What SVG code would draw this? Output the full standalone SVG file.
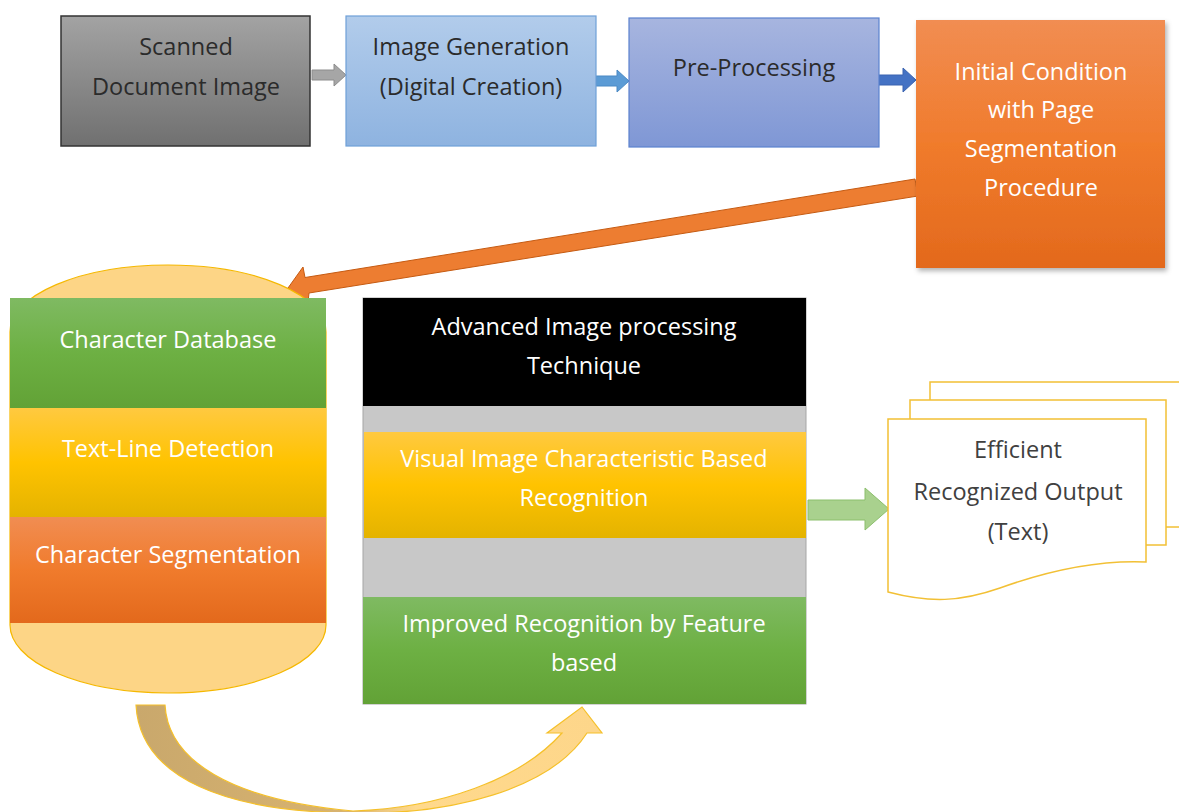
<svg xmlns="http://www.w3.org/2000/svg" width="1179" height="812" viewBox="0 0 1179 812">
<defs>
<linearGradient id="gGray" x1="0" y1="0" x2="0" y2="1"><stop offset="0" stop-color="#a3a3a3"/><stop offset="1" stop-color="#707070"/></linearGradient>
<linearGradient id="gBlue" x1="0" y1="0" x2="0" y2="1"><stop offset="0" stop-color="#b2cceb"/><stop offset="1" stop-color="#8eb3e0"/></linearGradient>
<linearGradient id="gPeri" x1="0" y1="0" x2="0" y2="1"><stop offset="0" stop-color="#a7b5df"/><stop offset="1" stop-color="#7f97d5"/></linearGradient>
<linearGradient id="gOrange" x1="0" y1="0" x2="0" y2="1"><stop offset="0" stop-color="#f18d52"/><stop offset="0.5" stop-color="#f07b2c"/><stop offset="1" stop-color="#e3691c"/></linearGradient>
<linearGradient id="gGreen" x1="0" y1="0" x2="0" y2="1"><stop offset="0" stop-color="#7fba62"/><stop offset="0.5" stop-color="#6db043"/><stop offset="1" stop-color="#62a236"/></linearGradient>
<linearGradient id="gYellow" x1="0" y1="0" x2="0" y2="1"><stop offset="0" stop-color="#ffc940"/><stop offset="0.5" stop-color="#ffc300"/><stop offset="1" stop-color="#e4b300"/></linearGradient>
<linearGradient id="gCurve" x1="0" y1="0" x2="1" y2="0"><stop offset="0" stop-color="#c9a86c"/><stop offset="0.45" stop-color="#d8b370"/><stop offset="0.6" stop-color="#ffd98c"/><stop offset="1" stop-color="#fdd68a"/></linearGradient>
<filter id="shadow" x="-10%" y="-10%" width="125%" height="125%"><feDropShadow dx="2" dy="3" stdDeviation="2.5" flood-color="#000" flood-opacity="0.3"/></filter>
</defs>
<style>
text{font-family:"Open Sans","Liberation Sans",sans-serif;font-size:23.5px;text-anchor:middle}
.dk{fill:#2b2b2b}
.wt{fill:#ffffff;font-weight:500}
.doc{fill:#ffffff;stroke:#f2c035;stroke-width:1.5}
</style>

<g id="connectors">
<polygon id="arrow-big" points="288,288 303,267 305,277.5 915,179 918,196 309,293 308,302" fill="#ed7d31" stroke="#c55a11" stroke-width="1"/>
<polygon id="arrow1" points="312,70 334,70 334,64 346,75 334,86 334,80 312,80" fill="#a6a6a6" stroke="#8c8c8c" stroke-width="1"/>
<polygon id="arrow2" points="596,76 617,76 617,70 629,81 617,92 617,86 596,86" fill="#5b9bd5" stroke="#4a89c4" stroke-width="1"/>
<polygon id="arrow3" points="879,75 903,75 903,68 916,80 903,92 903,85 879,85" fill="#4472c4" stroke="#3a63b0" stroke-width="1"/>
<polygon id="arrow-green" points="808,500 865,500 865,488 889,509 865,530 865,520 808,520" fill="#a9d18e" stroke="#8cbf6d" stroke-width="1"/>
<path id="arrow-curve" d="M136,705 L165,705 C168,760 230,800 353,811 C440,808 520,780 562,733 L547,733 L582,707 L602,733 L587,733 C550,790 450,815 353,813 C230,812 140,780 136,705 Z" fill="url(#gCurve)" stroke="#f5c02a" stroke-width="1.2"/>
</g>

<g id="node-scanned">
<rect x="61" y="16" width="249" height="130" fill="url(#gGray)" stroke="#333" stroke-width="1.5"/>
<text class="dk" x="186" y="55">Scanned</text>
<text class="dk" x="186" y="95">Document Image</text>
</g>

<g id="node-imagegen">
<rect x="346" y="16" width="250" height="130" fill="url(#gBlue)" stroke="#6fa0d8" stroke-width="1.2"/>
<text class="dk" x="471" y="55">Image Generation</text>
<text class="dk" x="471" y="95">(Digital Creation)</text>
</g>

<g id="node-preproc">
<rect x="629" y="18" width="250" height="129" fill="url(#gPeri)" stroke="#5b82cf" stroke-width="1.2"/>
<text class="dk" x="754" y="76">Pre-Processing</text>
</g>

<g id="node-initial">
<rect x="916" y="20" width="249" height="248" fill="url(#gOrange)" filter="url(#shadow)"/>
<text class="wt" x="1041" y="80">Initial Condition</text>
<text class="wt" x="1041" y="118">with Page</text>
<text class="wt" x="1041" y="157">Segmentation</text>
<text class="wt" x="1041" y="196">Procedure</text>
</g>

<g id="node-database">
<path d="M10,332 A158,67 0 0 1 326,332 L326,625 A158,68 0 0 1 10,625 Z" fill="#fdd586" stroke="#f5b800" stroke-width="1.2"/>
<rect x="10" y="298" width="316" height="110" fill="url(#gGreen)"/>
<rect x="10" y="408" width="316" height="109" fill="url(#gYellow)"/>
<rect x="10" y="517" width="316" height="106" fill="url(#gOrange)"/>
<text class="wt" x="168" y="348">Character Database</text>
<text class="wt" x="168" y="457">Text-Line Detection</text>
<text class="wt" x="168" y="563">Character Segmentation</text>
</g>

<g id="node-advanced">
<rect x="363" y="298" width="443" height="406" fill="#c8c8c8" stroke="#a6a6a6" stroke-width="1"/>
<rect x="363" y="298" width="443" height="108" fill="#000000"/>
<rect x="364" y="432" width="442" height="106" fill="url(#gYellow)"/>
<rect x="363" y="597" width="443" height="107" fill="url(#gGreen)"/>
<text class="wt" x="584" y="335">Advanced Image processing</text>
<text class="wt" x="584" y="374">Technique</text>
<text class="wt" x="584" y="467">Visual Image Characteristic Based</text>
<text class="wt" x="584" y="506">Recognition</text>
<text class="wt" x="584" y="632">Improved Recognition by Feature</text>
<text class="wt" x="584" y="671">based</text>
</g>

<g id="node-output">
<rect class="doc" x="930" y="382" width="260" height="145"/>
<rect class="doc" x="910" y="400" width="256" height="145"/>
<path class="doc" d="M888,419 H1146 V562 C1100,560 1050,570 1000,588 C960,602 930,603 888,592 Z"/>
<text x="1018" y="458" fill="#404040">Efficient</text>
<text x="1018" y="500" fill="#404040">Recognized Output</text>
<text x="1018" y="540" fill="#404040">(Text)</text>
</g>
</svg>
